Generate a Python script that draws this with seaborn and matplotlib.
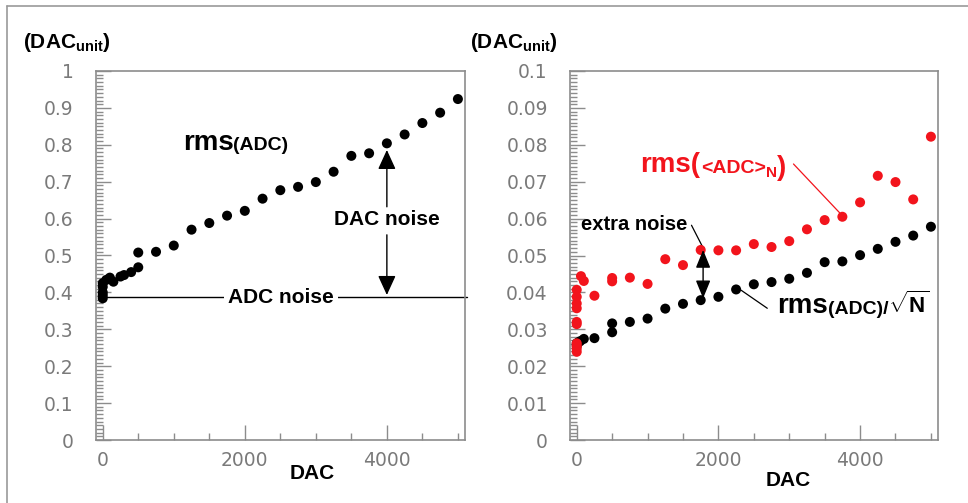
import pandas as pd
import matplotlib
matplotlib.use('Agg')
import matplotlib.pyplot as plt
from matplotlib.ticker import MultipleLocator
from matplotlib.lines import Line2D
import seaborn as sns

# left panel: rms(ADC) vs DAC
dac_left = [0, 0, 0, 0, 0, 50, 100, 150, 250, 300, 400, 500, 500, 750, 1000, 1250, 1500, 1750,
            2000, 2250, 2500, 2750, 3000, 3250, 3500, 3750, 4000, 4250, 4500, 4750, 5000]
rms_adc = [0.384, 0.392, 0.400, 0.415, 0.425, 0.434, 0.440, 0.429, 0.443, 0.447, 0.455, 0.468, 0.508,
           0.510, 0.527, 0.570, 0.588, 0.608, 0.621, 0.654, 0.677, 0.686, 0.699, 0.727, 0.770,
           0.777, 0.804, 0.828, 0.859, 0.887, 0.924]
adc_noise = 0.387

# right panel: rms(ADC)/sqrt(N) (black) and rms(<ADC>_N) (red)
dac_black = [0, 0, 25, 50, 100, 250, 500, 500, 750, 1000, 1250, 1500, 1750, 2000, 2250, 2500,
             2750, 3000, 3250, 3500, 3750, 4000, 4250, 4500, 4750, 5000]
rms_black = [0.0255, 0.0262, 0.0265, 0.0268, 0.0274, 0.0276, 0.0292, 0.0316, 0.0320, 0.0329,
             0.0356, 0.0369, 0.0379, 0.0388, 0.0408, 0.0422, 0.0428, 0.0437, 0.0453, 0.0482,
             0.0484, 0.0501, 0.0518, 0.0537, 0.0554, 0.0578]
dac_red = [0, 0, 0, 0, 0, 0, 0, 0, 0, 0, 60, 100, 250, 500, 500, 750, 1000, 1250, 1500, 1750,
           2000, 2250, 2500, 2750, 3000, 3250, 3500, 3750, 4000, 4250, 4500, 4750, 5000]
rms_red = [0.0239, 0.0248, 0.0255, 0.0262, 0.0314, 0.0320, 0.0357, 0.0370, 0.0388, 0.0407,
           0.0444, 0.0431, 0.0391, 0.0430, 0.0439, 0.0440, 0.0423, 0.0490, 0.0474, 0.0515,
           0.0514, 0.0514, 0.0531, 0.0523, 0.0539, 0.0571, 0.0596, 0.0605, 0.0644, 0.0716,
           0.0699, 0.0652, 0.0822]

left_df = pd.DataFrame({'DAC': dac_left, 'rms': rms_adc})
black_df = pd.DataFrame({'DAC': dac_black, 'rms': rms_black})
red_df = pd.DataFrame({'DAC': dac_red, 'rms': rms_red})

sns.set_style('white')
plt.rcParams['font.family'] = ['Liberation Sans', 'DejaVu Sans']
plt.rcParams['text.color'] = 'black'
plt.rcParams['mathtext.fontset'] = 'custom'
plt.rcParams['mathtext.bf'] = 'Liberation Sans:bold'
plt.rcParams['mathtext.rm'] = 'Liberation Sans:bold'

RED = '#f2141c'
GRAY = '#8c8c8c'

fig = plt.figure(figsize=(9.68, 5.03), dpi=100)
ax1 = fig.add_axes([96 / 968, 63 / 503, 369 / 968, 369 / 503])
ax2 = fig.add_axes([570 / 968, 63 / 503, 368 / 968, 369 / 503])

# outer frame (top and left edges)
fig.add_artist(Line2D([7 / 968, 7 / 968], [0, 1 - 6 / 503], transform=fig.transFigure, color='#999999', lw=1.2))
fig.add_artist(Line2D([7 / 968, 1], [1 - 6 / 503, 1 - 6 / 503], transform=fig.transFigure, color='#999999', lw=1.2))

sns.scatterplot(data=left_df, x='DAC', y='rms', color='black', s=52, edgecolor='none', ax=ax1, zorder=3)
sns.scatterplot(data=black_df, x='DAC', y='rms', color='black', s=52, edgecolor='none', ax=ax2, zorder=3)
sns.scatterplot(data=red_df, x='DAC', y='rms', color=RED, s=52, edgecolor='none', ax=ax2, zorder=4)

for ax, ymax, ymaj, ymin, x_lab in [(ax1, 1.0, 0.1, 0.01, (0.585, -0.066)),
                                     (ax2, 0.1, 0.01, 0.001, (0.592, -0.085))]:
    ax.set_xlim(-95, 5100)
    ax.set_ylim(0, ymax)
    ax.xaxis.set_major_locator(MultipleLocator(2000))
    ax.xaxis.set_minor_locator(MultipleLocator(500))
    ax.yaxis.set_major_locator(MultipleLocator(ymaj))
    ax.yaxis.set_minor_locator(MultipleLocator(ymin))
    ax.tick_params(which='both', direction='in', bottom=True, left=True, top=False, right=False,
                   colors=GRAY, labelcolor='#7a7a7a', labelsize=13.5, width=1)
    ax.tick_params(which='major', length=11)
    ax.tick_params(which='minor', length=5)
    ax.tick_params(axis='y', pad=16)
    ax.tick_params(axis='x', pad=8)
    for lab in ax.get_xticklabels() + ax.get_yticklabels():
        lab.set_fontfamily('DejaVu Sans')
    for sp in ax.spines.values():
        sp.set_color(GRAY)
        sp.set_linewidth(1.2)
    ax.set_ylabel('')
    ax.set_xlabel('DAC', fontsize=15, fontweight='bold', color='black')
    ax.xaxis.set_label_coords(*x_lab)

ax1.yaxis.set_major_formatter(plt.FuncFormatter(lambda v, p: '%g' % round(v, 3)))
ax2.yaxis.set_major_formatter(plt.FuncFormatter(lambda v, p: '%g' % round(v, 4)))

fig.text(23 / 968, 1 - 43 / 503, r'(DAC$_{\mathbf{unit}}$)', fontsize=15, fontweight='bold', va='center')
fig.text(470 / 968, 1 - 43 / 503, r'(DAC$_{\mathbf{unit}}$)', fontsize=15, fontweight='bold', va='center')

# left annotations
ax1.text(1130, 0.786, 'rms', fontsize=20, fontweight='bold', va='baseline')
ax1.text(1840, 0.786, '(ADC)', fontsize=14, fontweight='bold', va='baseline')
ax1.plot([60, 5130], [adc_noise, adc_noise], color='black', lw=1, clip_on=False, zorder=2)
ax1.text(2510, adc_noise, 'ADC noise', fontsize=15, fontweight='bold', ha='center', va='center',
         bbox=dict(facecolor='white', edgecolor='none', pad=3), zorder=3)
ax1.text(4000, 0.598, 'DAC noise', fontsize=15, fontweight='bold', ha='center', va='center')
ax1.annotate('', xy=(4000, 0.786), xytext=(4000, 0.632),
             arrowprops=dict(arrowstyle='-|>,head_length=1.2,head_width=0.55', mutation_scale=10,
                             color='black', lw=1, shrinkA=0, shrinkB=0))
ax1.annotate('', xy=(4000, 0.393), xytext=(4000, 0.556),
             arrowprops=dict(arrowstyle='-|>,head_length=1.2,head_width=0.55', mutation_scale=10,
                             color='black', lw=1, shrinkA=0, shrinkB=0))

# right annotations
t = ax2.text(894, 0.0726, 'rms(', fontsize=20, fontweight='bold', color=RED, va='baseline')
t = ax2.annotate('<ADC>', xy=(1, 0), xycoords=t, xytext=(1, 0.8), textcoords='offset points',
                 fontsize=14, fontweight='bold', color=RED, va='bottom')
t = ax2.annotate('N', xy=(1, 0), xycoords=t, xytext=(0, -2.5), textcoords='offset points',
                 fontsize=11, fontweight='bold', color=RED, va='bottom')
ax2.annotate(')', xy=(1, 0), xycoords=t, xytext=(0, -0.5), textcoords='offset points',
             fontsize=20, fontweight='bold', color=RED, va='bottom')
ax2.annotate('', xy=(3720, 0.0614), xytext=(3060, 0.0748),
             arrowprops=dict(arrowstyle='-', color=RED, lw=0.9, shrinkA=0, shrinkB=0))

ax2.text(60, 0.0585, 'extra noise', fontsize=14.5, fontweight='bold', va='center')
ax2.annotate('', xy=(1775, 0.0524), xytext=(1620, 0.0582),
             arrowprops=dict(arrowstyle='-', color='black', lw=0.9, shrinkA=0, shrinkB=0))
ax2.annotate('', xy=(1784, 0.0384), xytext=(1784, 0.0515),
             arrowprops=dict(arrowstyle='<|-|>,head_length=1.1,head_width=0.45', mutation_scale=10,
                             color='black', lw=1, shrinkA=0, shrinkB=0), zorder=5)

t = ax2.text(2830, 0.0343, 'rms', fontsize=20, fontweight='bold', va='baseline')
t = ax2.annotate('(ADC)/', xy=(1, 0), xycoords=t, xytext=(0, 1.3), textcoords='offset points',
                 fontsize=14, fontweight='bold', va='bottom')
ax2.annotate(r'$\sqrt{\mathbf{N}}$', xy=(1, 0), xycoords=t, xytext=(0, 0), textcoords='offset points',
             fontsize=16, va='bottom')
ax2.annotate('', xy=(2320, 0.0406), xytext=(2690, 0.0357),
             arrowprops=dict(arrowstyle='-', color='black', lw=0.9, shrinkA=0, shrinkB=0))

fig.savefig('out.png', dpi=100)
